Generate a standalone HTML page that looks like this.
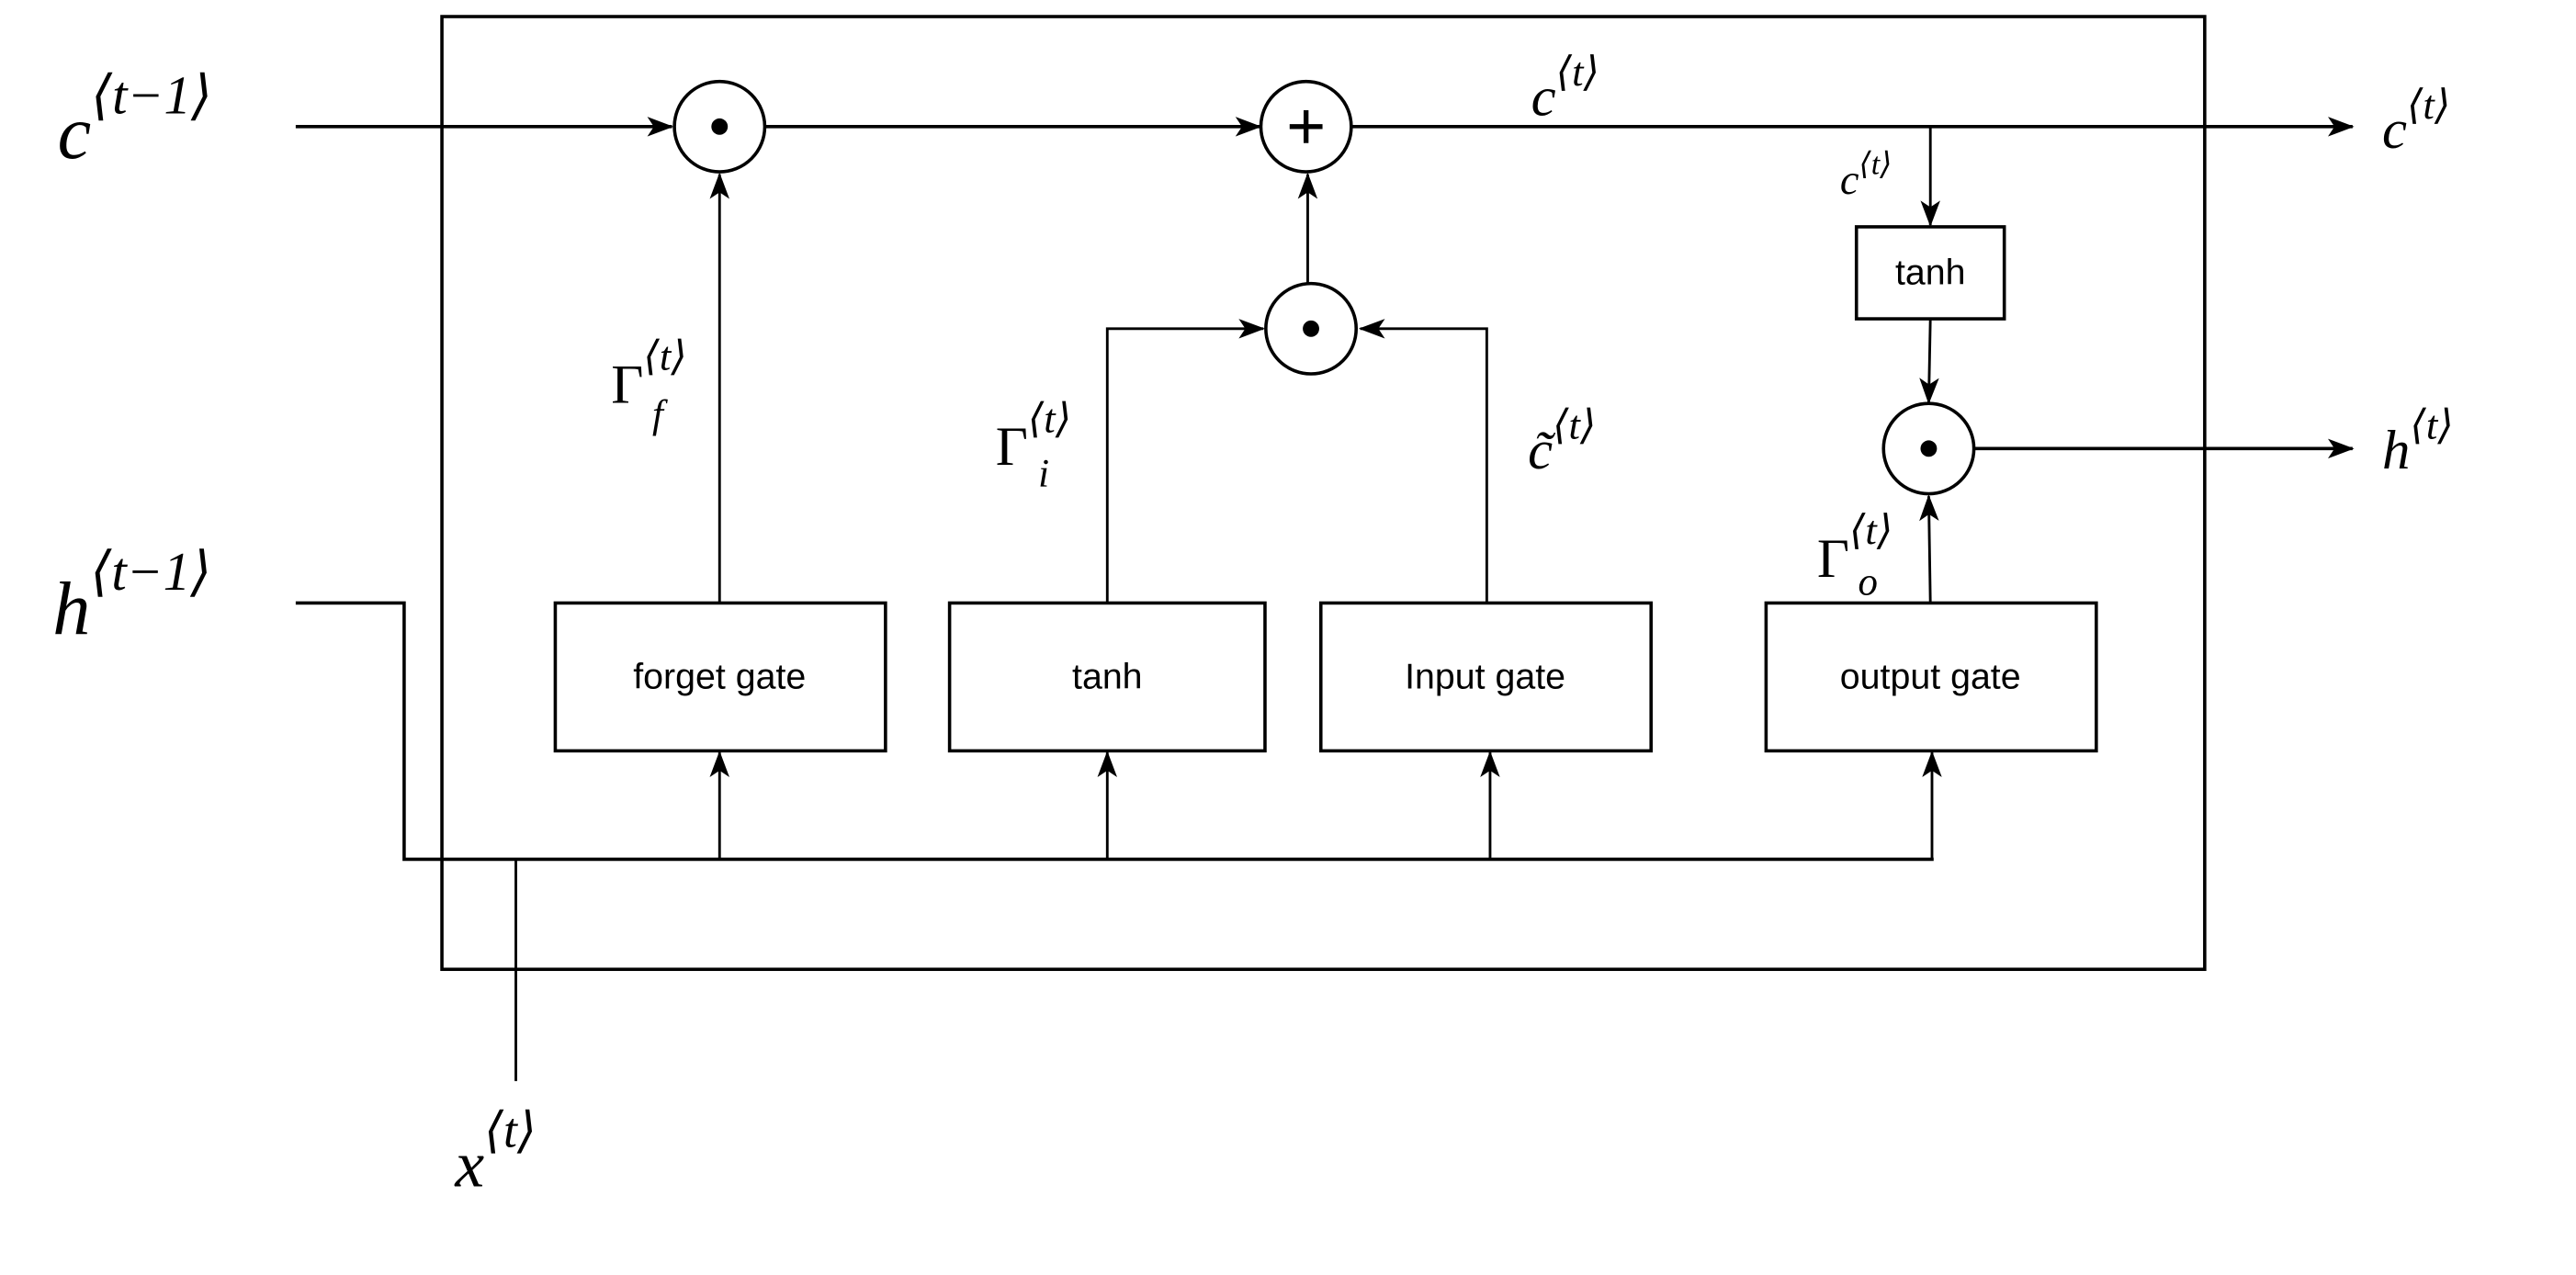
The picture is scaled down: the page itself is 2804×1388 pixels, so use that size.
<!DOCTYPE html>
<html><head><meta charset="utf-8"><style>
html,body{margin:0;padding:0;background:#fff;}
svg{display:block;}
.m{font-family:"Liberation Serif","DejaVu Serif",serif;font-style:italic;fill:#000;}
.r{font-family:"Liberation Serif","DejaVu Serif",serif;font-style:normal;}
.s{font-family:"Liberation Sans",sans-serif;fill:#000;}
</style></head><body>
<svg width="2804" height="1388" viewBox="0 0 1568 776" xmlns="http://www.w3.org/2000/svg">
<defs>
<marker id="a" viewBox="0 0 16 12" refX="15" refY="6" markerWidth="17" markerHeight="12" markerUnits="userSpaceOnUse" orient="auto">
<path d="M0,0 L16,6 L0,12 L4,6 Z" fill="#000"/></marker>
</defs>
<g fill="none" stroke="#000" stroke-width="2">
<rect x="269" y="10" width="1073" height="580"/>
<line x1="180" y1="77" x2="409" y2="77" marker-end="url(#a)"/>
<line x1="465" y1="77" x2="767" y2="77" marker-end="url(#a)"/>
<line x1="823" y1="77" x2="1432" y2="77" marker-end="url(#a)"/>
<line x1="1175" y1="77" x2="1175" y2="137" stroke-width="1.6" marker-end="url(#a)"/>
<line x1="1175" y1="194" x2="1174" y2="245" stroke-width="1.6" marker-end="url(#a)"/>
<line x1="1202" y1="273" x2="1432" y2="273" marker-end="url(#a)"/>
<circle cx="438" cy="77" r="27.5"/>
<circle cx="795" cy="77" r="27.5"/>
<circle cx="798" cy="200" r="27.5"/>
<circle cx="1174" cy="273" r="27.5"/>
<rect x="1130" y="138" width="90" height="56"/>
<rect x="338" y="367" width="201" height="90"/>
<rect x="578" y="367" width="192" height="90"/>
<rect x="804" y="367" width="201" height="90"/>
<rect x="1075" y="367" width="201" height="90"/>
<g stroke-width="1.6">
<line x1="438" y1="367" x2="438" y2="106" marker-end="url(#a)"/>
<polyline points="674,367 674,200 769,200" marker-end="url(#a)"/>
<polyline points="905,367 905,200 828,200" marker-end="url(#a)"/>
<line x1="796" y1="172" x2="796" y2="106" marker-end="url(#a)"/>
<line x1="1175" y1="367" x2="1174" y2="302" marker-end="url(#a)"/>
<line x1="438" y1="523" x2="438" y2="458" marker-end="url(#a)"/>
<line x1="674" y1="523" x2="674" y2="458" marker-end="url(#a)"/>
<line x1="907" y1="523" x2="907" y2="458" marker-end="url(#a)"/>
<line x1="1176" y1="523" x2="1176" y2="458" marker-end="url(#a)"/>
<line x1="314" y1="523" x2="314" y2="658"/>
</g>
<polyline points="180,367 246,367 246,523 1177,523"/>
</g>
<circle cx="438" cy="77" r="5" fill="#000"/>
<circle cx="798" cy="200" r="5" fill="#000"/>
<circle cx="1174" cy="273" r="5" fill="#000"/>
<path d="M795,67 V87 M785,77 H805" stroke="#000" stroke-width="3"/>
<g class="s" font-size="22" text-anchor="middle">
<text x="1175" y="173">tanh</text>
<text x="438" y="419">forget gate</text>
<text x="674" y="419">tanh</text>
<text x="904" y="419">Input gate</text>
<text x="1175" y="419">output gate</text>
</g>
<text class="m" x="35" y="96" font-size="46">c<tspan font-size="33" dy="-27">⟨t−1⟩</tspan></text>
<text class="m" x="32" y="386" font-size="46">h<tspan font-size="33" dy="-27">⟨t−1⟩</tspan></text>
<text class="m" x="277" y="722" font-size="40">x<tspan font-size="30" dy="-24">⟨t⟩</tspan></text>
<text class="m" x="932" y="70" font-size="34">c<tspan font-size="25" dy="-18">⟨t⟩</tspan></text>
<text class="m" x="1450" y="90" font-size="34">c<tspan font-size="25" dy="-18">⟨t⟩</tspan></text>
<text class="m" x="1450" y="285" font-size="34">h<tspan font-size="25" dy="-18">⟨t⟩</tspan></text>
<text class="m" x="1120" y="118" font-size="26">c<tspan font-size="19" dy="-12">⟨t⟩</tspan></text>
<text class="m" x="930" y="285" font-size="34">c̃<tspan font-size="25" dy="-18">⟨t⟩</tspan></text>
<text class="m" x="372" y="245" font-size="34"><tspan class="r">Γ</tspan><tspan font-size="25" dy="-20">⟨t⟩</tspan></text>
<text class="m" x="397" y="260" font-size="24">f</text>
<text class="m" x="606" y="283" font-size="34"><tspan class="r">Γ</tspan><tspan font-size="25" dy="-20">⟨t⟩</tspan></text>
<text class="m" x="632" y="296" font-size="24">i</text>
<text class="m" x="1106" y="351" font-size="34"><tspan class="r">Γ</tspan><tspan font-size="25" dy="-20">⟨t⟩</tspan></text>
<text class="m" x="1131" y="362" font-size="24">o</text>
</svg>
</body></html>
